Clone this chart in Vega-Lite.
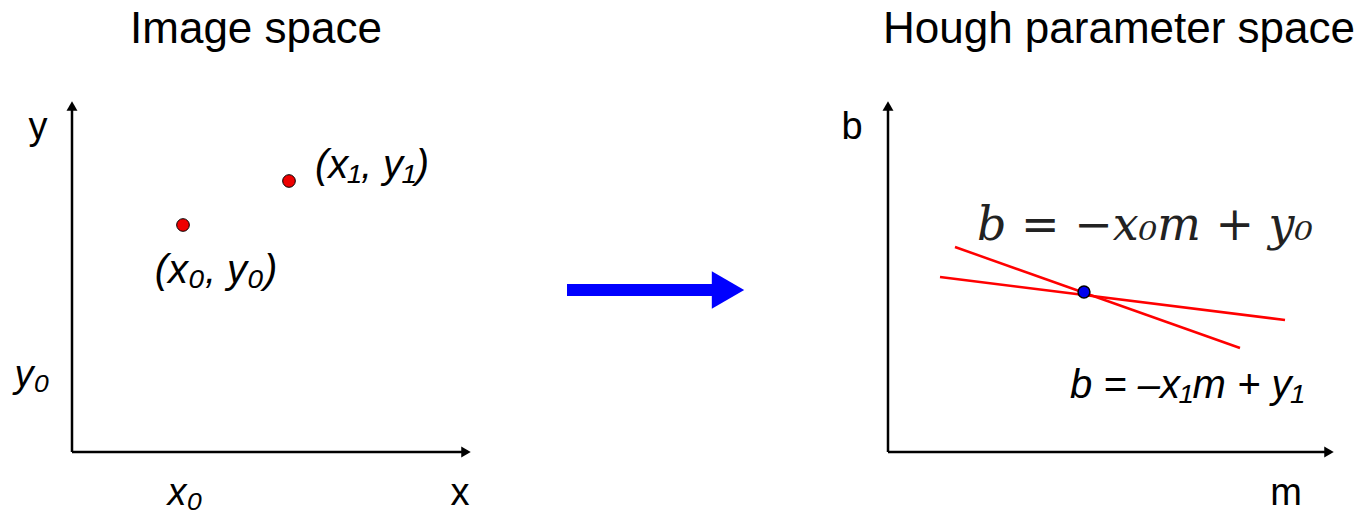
{
  "$schema": "https://vega.github.io/schema/vega-lite/v6.json",
  "width": 1364,
  "height": 529,
  "autosize": {"type": "fit", "contains": "padding"},
  "padding": 0,
  "config": {"view": {"stroke": null}},
  "datasets": {
    "axes": [
      {"x": 72, "y": 452, "x2": 72, "y2": 110},
      {"x": 72, "y": 452, "x2": 462, "y2": 452},
      {"x": 888, "y": 452, "x2": 888, "y2": 110},
      {"x": 888, "y": 452, "x2": 1325, "y2": 452}
    ],
    "heads": [
      {"x": 72, "y": 106, "dir": "up"},
      {"x": 888, "y": 106, "dir": "up"},
      {"x": 466, "y": 452, "dir": "right"},
      {"x": 1329, "y": 452, "dir": "right"}
    ],
    "houghLines": [
      {"x": 955, "y": 247, "x2": 1240, "y2": 348},
      {"x": 940, "y": 277, "x2": 1285, "y2": 320}
    ],
    "blueArrow": [{"x": 567, "y": 290, "x2": 718, "y2": 290}],
    "blueHead": [{"x": 728, "y": 290}],
    "imagePoints": [{"x": 183, "y": 225}, {"x": 289, "y": 181}],
    "houghPoint": [{"x": 1084, "y": 292}],
    "titles": [
      {"x": 256, "y": 30, "label": "Image space"},
      {"x": 1119, "y": 30, "label": "Hough parameter space"}
    ],
    "axisLabels": [
      {"x": 38, "y": 128, "label": "y"},
      {"x": 460, "y": 494, "label": "x"},
      {"x": 852, "y": 128, "label": "b"},
      {"x": 1286, "y": 494, "label": "m"}
    ],
    "italicLabels": [
      {"x": 185, "y": 494, "label": "x₀"},
      {"x": 32, "y": 376, "label": "y₀"}
    ],
    "pointLabels": [
      {"x": 372, "y": 166, "label": "(x₁, y₁)"},
      {"x": 216, "y": 271, "label": "(x₀, y₀)"},
      {"x": 1187, "y": 386, "label": "b = –x₁m + y₁"}
    ],
    "formula": [{"x": 1145, "y": 226, "label": "b = −x₀m + y₀"}]
  },
  "encoding": {
    "x": {"field": "x", "type": "quantitative", "scale": {"domain": [0, 1364], "nice": false, "zero": false}, "axis": null},
    "y": {"field": "y", "type": "quantitative", "scale": {"domain": [0, 529], "nice": false, "zero": false, "reverse": true}, "axis": null}
  },
  "layer": [
    {"data": {"name": "axes"}, "mark": {"type": "rule", "color": "black", "strokeWidth": 2.5},
     "encoding": {"x2": {"field": "x2"}, "y2": {"field": "y2"}}},
    {"data": {"name": "heads"}, "transform": [{"filter": "datum.dir == 'up'"}],
     "mark": {"type": "point", "shape": "triangle-up", "filled": true, "color": "black", "size": 120, "opacity": 1}},
    {"data": {"name": "heads"}, "transform": [{"filter": "datum.dir == 'right'"}],
     "mark": {"type": "point", "shape": "triangle-right", "filled": true, "color": "black", "size": 120, "opacity": 1}},
    {"data": {"name": "houghLines"}, "mark": {"type": "rule", "color": "#ff0000", "strokeWidth": 2.5},
     "encoding": {"x2": {"field": "x2"}, "y2": {"field": "y2"}}},
    {"data": {"name": "blueArrow"}, "mark": {"type": "rule", "color": "#0000ff", "strokeWidth": 12},
     "encoding": {"x2": {"field": "x2"}, "y2": {"field": "y2"}}},
    {"data": {"name": "blueHead"}, "mark": {"type": "point", "shape": "triangle-right", "filled": true, "color": "#0000ff", "size": 1400, "opacity": 1}},
    {"data": {"name": "imagePoints"}, "mark": {"type": "point", "filled": true, "fill": "#ee0000", "stroke": "black", "strokeWidth": 1, "size": 160, "opacity": 1}},
    {"data": {"name": "houghPoint"}, "mark": {"type": "point", "filled": true, "fill": "#0000ee", "stroke": "black", "strokeWidth": 1.5, "size": 140, "opacity": 1}},
    {"data": {"name": "titles"}, "mark": {"type": "text", "font": "Liberation Sans", "fontSize": 44, "color": "black"},
     "encoding": {"text": {"field": "label"}}},
    {"data": {"name": "axisLabels"}, "mark": {"type": "text", "font": "Liberation Sans", "fontSize": 38, "color": "black"},
     "encoding": {"text": {"field": "label"}}},
    {"data": {"name": "italicLabels"}, "mark": {"type": "text", "font": "Liberation Sans", "fontSize": 38, "fontStyle": "italic", "color": "black"},
     "encoding": {"text": {"field": "label"}}},
    {"data": {"name": "pointLabels"}, "mark": {"type": "text", "font": "Liberation Sans", "fontSize": 40, "fontStyle": "italic", "color": "black"},
     "encoding": {"text": {"field": "label"}}},
    {"data": {"name": "formula"}, "mark": {"type": "text", "font": "DejaVu Serif", "fontSize": 46, "fontStyle": "italic", "color": "#222222"},
     "encoding": {"text": {"field": "label"}}}
  ]
}
